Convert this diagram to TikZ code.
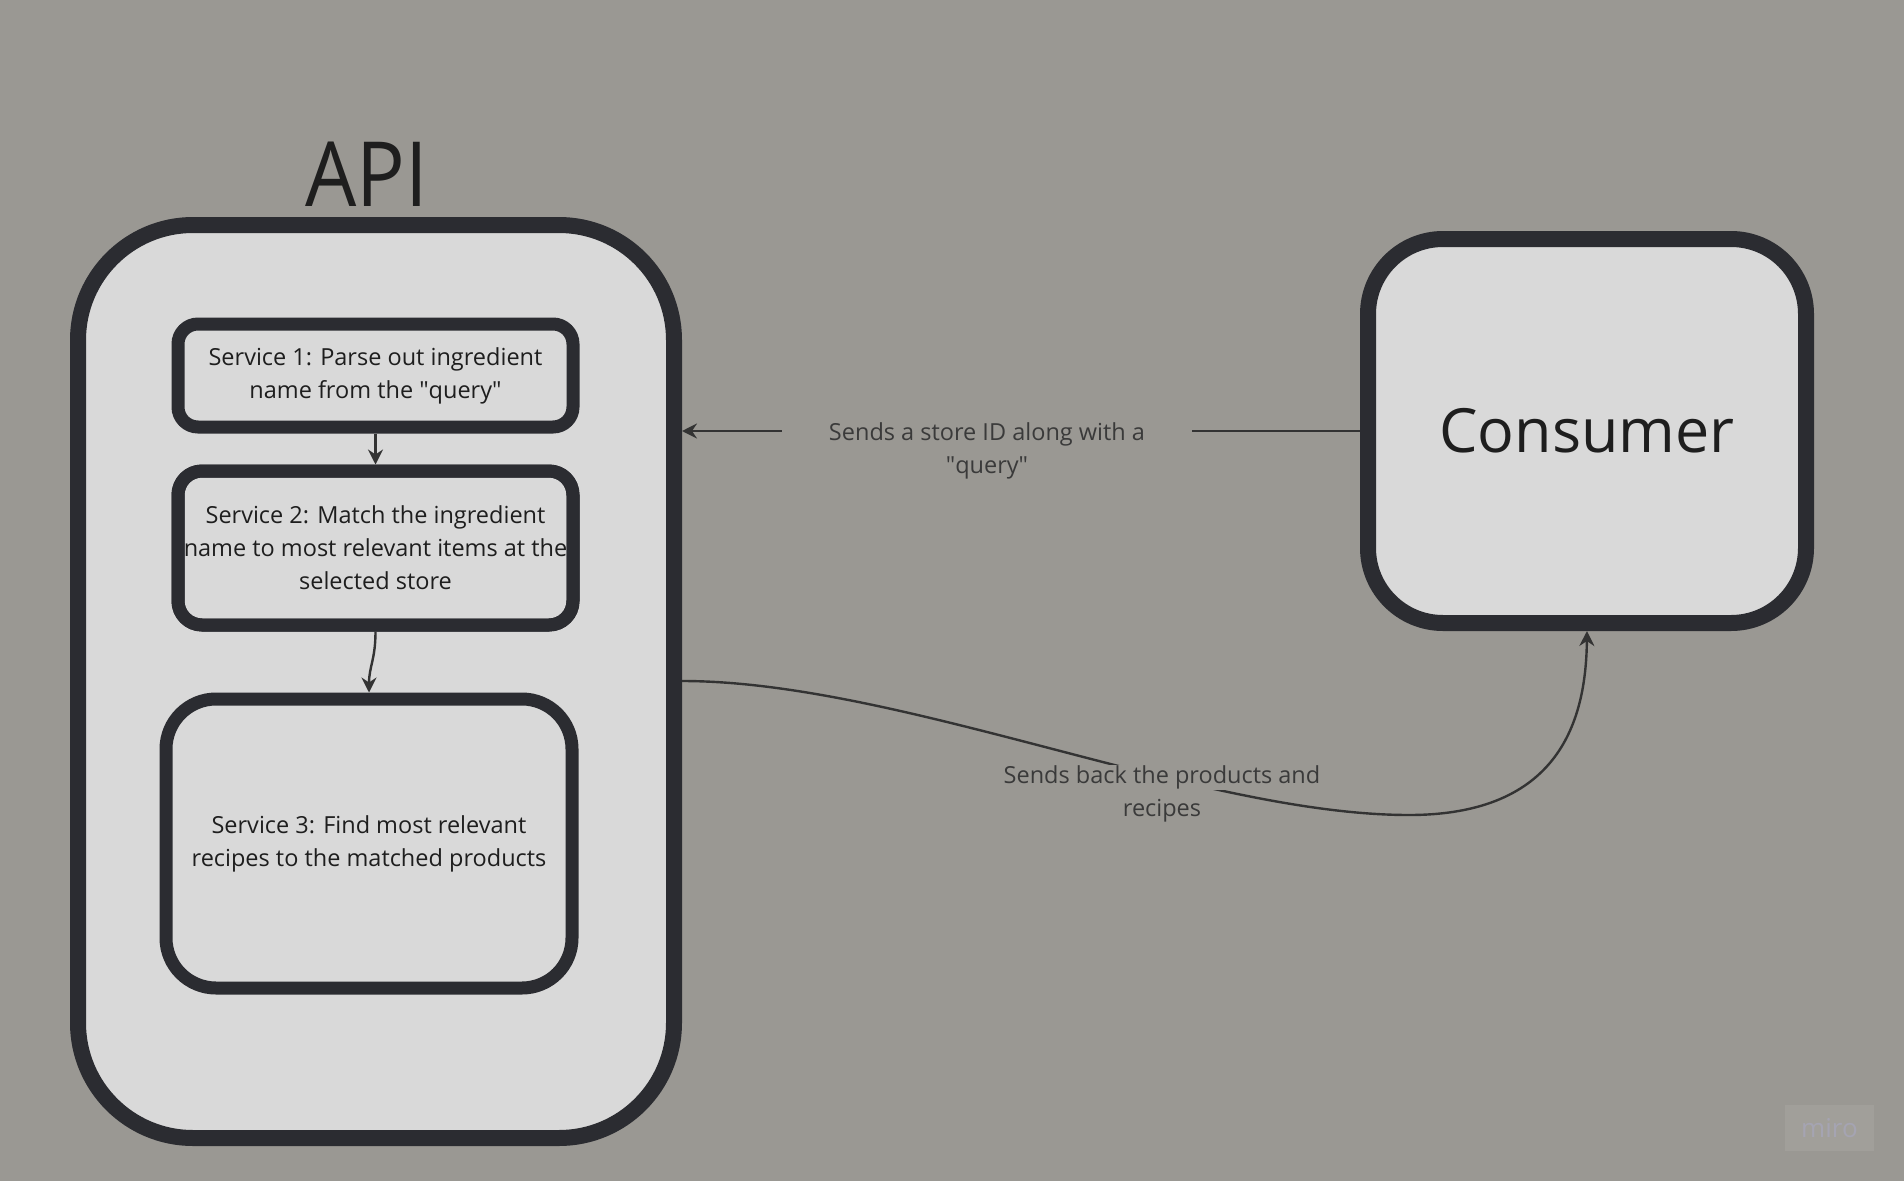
\documentclass[tikz,border=0pt]{standalone}
\usepackage{fontspec}
\setmainfont{Open Sans}
\usetikzlibrary{arrows.meta}
\definecolor{bg}{HTML}{9A9893}
\definecolor{boxfill}{HTML}{D9D9D9}
\definecolor{strokec}{HTML}{2B2C31}
\definecolor{ink}{HTML}{1E1E1E}
\definecolor{lineink}{HTML}{333333}
\definecolor{labelink}{HTML}{3A3A3A}
\definecolor{miroback}{HTML}{A19F9A}
\definecolor{mirotext}{HTML}{A5A4B2}
\newcommand\linebg[1]{{\setlength\fboxsep{0.5pt}\colorbox{bg}{#1}}}
\newcommand\qq{\textquotedbl}
\begin{document}
\begin{tikzpicture}[x=1pt,y=-1pt,
  boxr/.style={draw=strokec, fill=boxfill, rounded corners=#1, inner sep=0pt, text=ink, align=center},
  strokeonly/.style={draw=strokec, rounded corners=#1, inner sep=0pt},
  svctext/.style={font=\fontsize{23.5}{33}\selectfont},
  lbl/.style={text=labelink, align=center, font=\fontsize{23.5}{33}\selectfont},
  conn/.style={draw=lineink, line width=2.4pt, -{Stealth[length=15pt,width=15pt,inset=5pt]}},
]
\useasboundingbox (0,0) rectangle (1904,1181);
\fill[bg] (0,0) rectangle (1904,1181);

% API container
\node[boxr=115, line width=16pt, minimum width=596pt, minimum height=913pt] (api) at (376,681.5) {};
\node[anchor=base, text=ink, font=\fontsize{90}{90}\selectfont, xscale=0.9, transform shape] (apititle) at (367,206) {API};

% Services
\node[boxr=20, line width=13pt, minimum width=395pt, minimum height=103pt, svctext] (s1) at (375.5,375.5)
  {Service 1: Parse out ingredient\\name from the \qq query\qq};
\node[boxr=24, line width=13pt, minimum width=395pt, minimum height=154pt, svctext] (s2) at (375.5,548)
  {Service 2: Match the ingredient\\name to most relevant items at the\\selected store};
\node[strokeonly=24, line width=13pt, minimum width=395pt, minimum height=154pt] (s2b) at (s2.center) {};
\node[boxr=50, line width=13pt, minimum width=406pt, minimum height=289pt, svctext] (s3) at (369,843.5)
  {Service 3: Find most relevant\\recipes to the matched products};

% Consumer
\node[boxr=75, line width=16pt, minimum width=438pt, minimum height=384pt, font=\fontsize{61}{61}\selectfont] (cons) at (1587,431) {Consumer};

% connectors inside API
\draw[conn] (s1.south) -- (s2.north);
\draw[conn] (s2.south) .. controls +(0,28) and +(0,-26) .. (s3.north);

% Consumer -> API
\draw[conn] (cons.west) -- (cons.west -| api.east);
\node[lbl, fill=bg, inner xsep=47pt, inner ysep=2pt] (l1) at (987,451) {Sends a store ID along with a\\\qq query\qq};

% API -> Consumer
\coordinate (apiout) at (api.east |- 0,681);
\coordinate (curvemid) at (1409,815);
\draw[conn] (apiout) .. controls (900,681) and (1200,815) .. (curvemid)
  .. controls (1560,815) and (1586,720) .. (cons.south);
\node[lbl, inner sep=0pt] (l2) at (1162,794) {\linebg{Sends back the products and}\\\linebg{recipes}};

% watermark
\node[fill=miroback, minimum width=89pt, minimum height=46pt, text=mirotext, font=\fontsize{26}{26}\selectfont, inner sep=0pt] (miro) at (1829.5,1128) {miro};
\end{tikzpicture}
\end{document}
